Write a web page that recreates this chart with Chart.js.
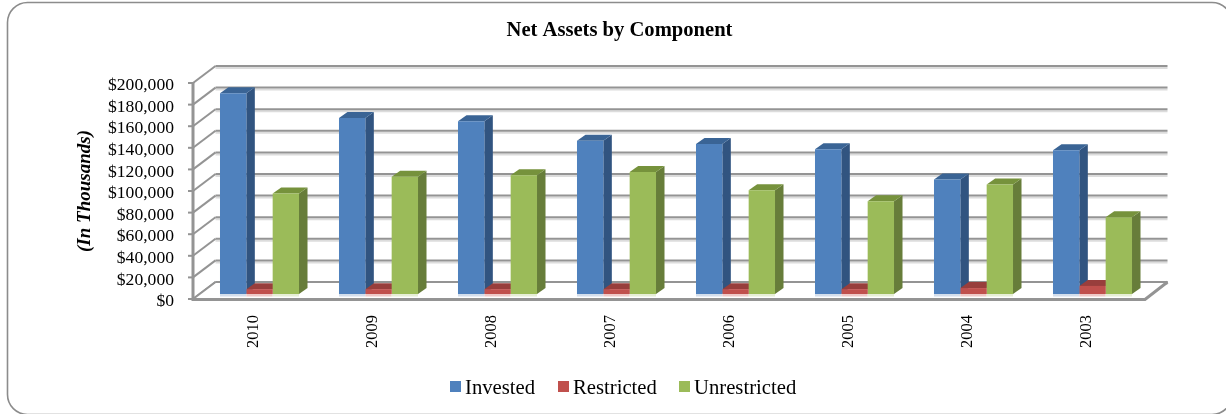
<!DOCTYPE html>
<html><head><meta charset="utf-8">
<style>html,body{margin:0;padding:0;background:#fff;overflow:hidden}canvas{display:block;filter:blur(0.4px)}</style>
<script src="https://cdn.jsdelivr.net/npm/chart.js@4"></script>
</head><body>
<div style="width:1226px;height:414px"><canvas id="c" width="1226" height="414"></canvas></div>
<script>
const years = ['2010','2009','2008','2007','2006','2005','2004','2003'];
const invested = [186000,163000,160000,142000,139000,134000,106000,133000];
const restricted = [4500,4500,4500,4500,4500,4500,5500,7500];
const unrestricted = [93000,108500,110000,113000,96000,86000,101500,71000];
const seriesNames = ['Invested','Restricted','Unrestricted'];
const frontColors = ['#4f81bd','#c0504d','#9bbb59'];
const sideColors = ['#315480','#8a3634','#677d3a'];
const topColors = ['#3a6495','#983e3c','#76923c'];
const shadowColors = ['#d3deec','#efc9c8','#e6eed6'];
const SERIF = '"Liberation Serif", serif';
const barShift = {x:7,y:-5}, barDepth = {x:8.5,y:-6}, wall = {x:22.5,y:-17};
const legendItems = [[450,465],[558,573],[679,694]];

const threeD = {
  id:'threeD',
  beforeDraw(chart){
    const c=chart.ctx;
    c.save();
    c.strokeStyle='#8c8c8c';c.lineWidth=1.6;
    c.beginPath();c.roundRect(7.5,2.5,1224.5,412,20);c.stroke();
    c.restore();
  },
  beforeDatasetsDraw(chart){
    const c=chart.ctx, a=chart.chartArea, ys=chart.scales.y;
    c.save();
    c.lineCap='butt';
    const gray='#949494', pale='#dcdcdc';
    const vals=ys.ticks.map(t=>t.value);
    for(const v of vals){
      const y=ys.getPixelForValue(v);
      c.strokeStyle=pale;c.lineWidth=2;
      c.beginPath();c.moveTo(a.left+wall.x,y+wall.y+2);c.lineTo(a.right+wall.x,y+wall.y+2);c.stroke();
      c.strokeStyle=gray;c.lineWidth=2;
      c.beginPath();c.moveTo(a.left+wall.x,y+wall.y);c.lineTo(a.right+wall.x,y+wall.y);c.stroke();
      c.beginPath();c.moveTo(a.left,y);c.lineTo(a.left+wall.x,y+wall.y);c.stroke();
      c.beginPath();c.moveTo(a.left-5,y);c.lineTo(a.left,y);c.stroke();
    }
    const y0=ys.getPixelForValue(0);
    c.fillStyle='#fff';
    c.beginPath();c.moveTo(a.left,y0);c.lineTo(a.right,y0);c.lineTo(a.right+wall.x,y0+wall.y+1);c.lineTo(a.left+wall.x,y0+wall.y+1);c.closePath();c.fill();
    c.strokeStyle=gray;c.lineWidth=2;
    c.beginPath();c.moveTo(a.left+wall.x,y0+wall.y);c.lineTo(a.right+wall.x,y0+wall.y);c.stroke();
    c.beginPath();c.moveTo(a.left,y0);c.lineTo(a.left+wall.x,y0+wall.y);c.stroke();
    c.lineWidth=3;
    c.beginPath();c.moveTo(a.left,ys.getPixelForValue(200000)-1);c.lineTo(a.left,y0+0.5);c.lineTo(a.right,y0+0.5);c.lineTo(a.right+wall.x,y0+wall.y);c.stroke();
    chart.data.datasets.forEach((d,i)=>{
      chart.getDatasetMeta(i).data.forEach(b=>{
        const l=b.x-b.width/2+barShift.x, r=b.x+b.width/2+barShift.x;
        const t=b.y+barShift.y, base=b.base+barShift.y;
        c.fillStyle=shadowColors[i];
        c.fillRect(l,base-0.5,r-l,3);
        c.fillStyle=sideColors[i];
        c.beginPath();c.moveTo(r,t);c.lineTo(r+barDepth.x,t+barDepth.y);c.lineTo(r+barDepth.x,base+barDepth.y);c.lineTo(r,base);c.closePath();c.fill();
        c.fillStyle=topColors[i];
        c.beginPath();c.moveTo(l,t);c.lineTo(l+barDepth.x,t+barDepth.y);c.lineTo(r+barDepth.x,t+barDepth.y);c.lineTo(r,t);c.closePath();c.fill();
      });
    });
    c.restore();
    c.save();
    c.translate(barShift.x,barShift.y);
  },
  afterDatasetsDraw(chart){
    chart.ctx.restore();
  },
  afterDraw(chart){
    const c=chart.ctx;
    c.save();
    c.font='20.7px '+SERIF;c.textBaseline='middle';c.textAlign='left';
    chart.data.datasets.forEach((d,i)=>{
      const [bx,tx]=legendItems[i];
      c.fillStyle=frontColors[i];c.fillRect(bx,381,11,11);
      c.fillStyle='#000';c.fillText(d.label,tx,389);
    });
    c.restore();
  }
};

new Chart(document.getElementById('c'),{
  type:'bar',
  data:{labels:years,datasets:[
    {label:seriesNames[0],data:invested,backgroundColor:frontColors[0]},
    {label:seriesNames[1],data:restricted,backgroundColor:frontColors[1]},
    {label:seriesNames[2],data:unrestricted,backgroundColor:frontColors[2]}
  ]},
  plugins:[threeD],
  options:{
    responsive:false,animation:false,
    layout:{padding:{left:94,right:81,top:0,bottom:0}},
    datasets:{bar:{categoryPercentage:0.664,barPercentage:1,borderWidth:0,clip:false}},
    plugins:{
      legend:{display:false},tooltip:{enabled:false},
      title:{display:true,text:'Net Assets by Component',color:'#000',
        font:{family:SERIF,size:20.6,weight:'bold',lineHeight:1.2},padding:{top:18,bottom:40.3}}
    },
    scales:{
      x:{grid:{display:false},border:{display:false},
        afterFit(s){s.height=115;},
        ticks:{minRotation:90,maxRotation:90,padding:8,labelOffset:1,color:'#000',font:{family:SERIF,size:16.5}}},
      y:{min:0,max:200000,
        afterFit(s){s.width=99;},
        grid:{display:false},border:{display:false},
        title:{display:true,text:'(In Thousands)',color:'#000',padding:{top:-20,bottom:0},
          font:{family:SERIF,size:19,weight:'bold',style:'italic'}},
        ticks:{stepSize:20000,autoSkip:false,padding:11,labelOffset:2.5,color:'#000',font:{family:SERIF,size:17.6},
          callback:v=>'$'+Number(v).toLocaleString('en-US')}}
    }
  }
});
</script>
</body></html>
